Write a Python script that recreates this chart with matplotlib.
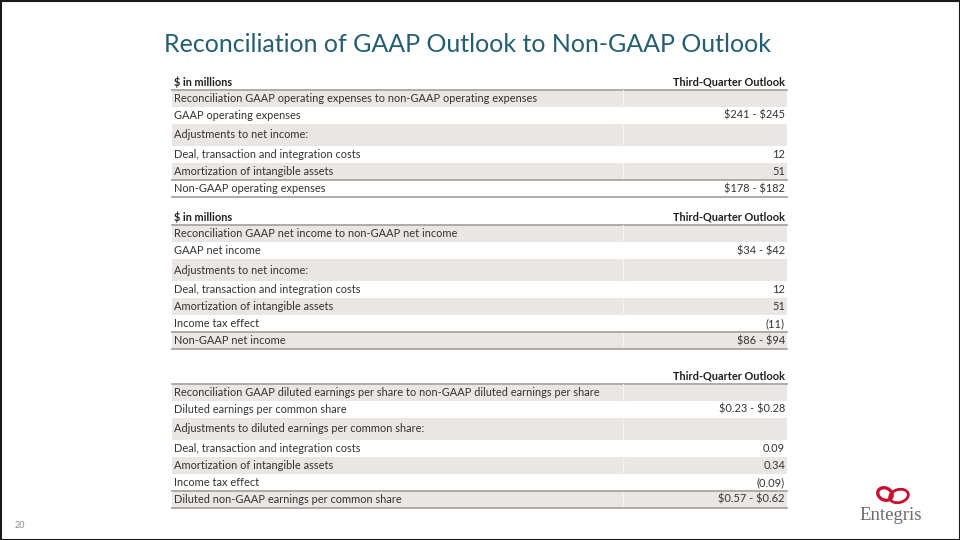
import matplotlib.pyplot as plt
from matplotlib.patches import Rectangle, Ellipse

# ---- data ----
title = 'Reconciliation of GAAP Outlook to Non-GAAP Outlook'
col_header = 'Third-Quarter Outlook'

opex_header = '$ in millions'
opex_labels = [
    'Reconciliation GAAP operating expenses to non-GAAP operating expenses',
    'GAAP operating expenses',
    'Adjustments to net income:',
    'Deal, transaction and integration costs',
    'Amortization of intangible assets',
    'Non-GAAP operating expenses',
]
opex_values = ['', '$241 - $245', '', '12', '51', '$178 - $182']

ni_header = '$ in millions'
ni_labels = [
    'Reconciliation GAAP net income to non-GAAP net income',
    'GAAP net income',
    'Adjustments to net income:',
    'Deal, transaction and integration costs',
    'Amortization of intangible assets',
    'Income tax effect',
    'Non-GAAP net income',
]
ni_values = ['', '$34 - $42', '', '12', '51', '(11)', '$86 - $94']

eps_header = ''
eps_labels = [
    'Reconciliation GAAP diluted earnings per share to non-GAAP diluted earnings per share',
    'Diluted earnings per common share',
    'Adjustments to diluted earnings per common share:',
    'Deal, transaction and integration costs',
    'Amortization of intangible assets',
    'Income tax effect',
    'Diluted non-GAAP earnings per common share',
]
eps_values = ['', '$0.23 - $0.28', '', '0.09', '0.34', '(0.09)', '$0.57 - $0.62']

# ---- style ----
FONT = ['Lato', 'DejaVu Sans']
TXT = '#333333'
GRAY = '#e9e6e4'
RULE = '#a8a6a4'
FS = 7.9
X0, X1, XDIV = 172, 787, 623

plt.rcParams['font.family'] = FONT

fig = plt.figure(figsize=(9.6, 5.4), dpi=100)
ax = fig.add_axes([0, 0, 1, 1])
ax.set_xlim(0, 960)
ax.set_ylim(540, 0)
ax.axis('off')

# slide border
ax.add_patch(Rectangle((0.5, 0.5), 959, 539, fill=False, ec='#1a1a1a', lw=1.5))

ax.text(468, 45, title, fontsize=18, color='#255e6e', ha='center', va='center')


def draw_table(top, header, labels, values):
    ax.text(X0 + 2, top - 8, header, fontsize=FS, fontweight='bold', color='#1f1f1f',
            va='center', parse_math=False)
    ax.text(X1 - 2, top - 8, col_header, fontsize=FS, fontweight='bold', color='#1f1f1f',
            va='center', ha='right')
    ax.plot([X0, X1], [top, top], color=RULE, lw=1.3)
    y = top
    n = len(labels)
    for i, (lab, val) in enumerate(zip(labels, values)):
        h = 22 if i == 2 else 17
        if i % 2 == 0:
            ax.add_patch(Rectangle((X0, y), X1 - X0, h, fc=GRAY, ec='none'))
            ax.plot([XDIV, XDIV], [y, y + h], color='#f4f2f1', lw=0.8)
        if i == n - 1:
            ax.plot([X0, X1], [y, y], color=RULE, lw=1.3)
        ax.text(X0 + 2, y + h / 2, lab, fontsize=FS, color=TXT, va='center', parse_math=False)
        ax.text(X1 - 2, y + h / 2, val, fontsize=FS, color=TXT, va='center', ha='right',
                parse_math=False)
        y += h
    ax.plot([X0, X1], [y, y], color=RULE, lw=1.3)


draw_table(90, opex_header, opex_labels, opex_values)
draw_table(225, ni_header, ni_labels, ni_values)
draw_table(384, eps_header, eps_labels, eps_values)

# page number
ax.text(15, 526, '20', fontsize=6.5, color='#8c8c8c', va='center')

# logo
ax.add_patch(Ellipse((885, 494), 15, 12, angle=25, fill=False, ec='#c8102e', lw=2.4))
ax.add_patch(Ellipse((899, 496), 19, 13, angle=-15, fill=False, ec='#c8102e', lw=2.0))
ax.text(891, 515, 'Entegris', fontsize=13.5, color='#6e6967', ha='center', va='center',
        family=['Liberation Serif', 'DejaVu Serif'])

fig.savefig('out.png', dpi=100)
